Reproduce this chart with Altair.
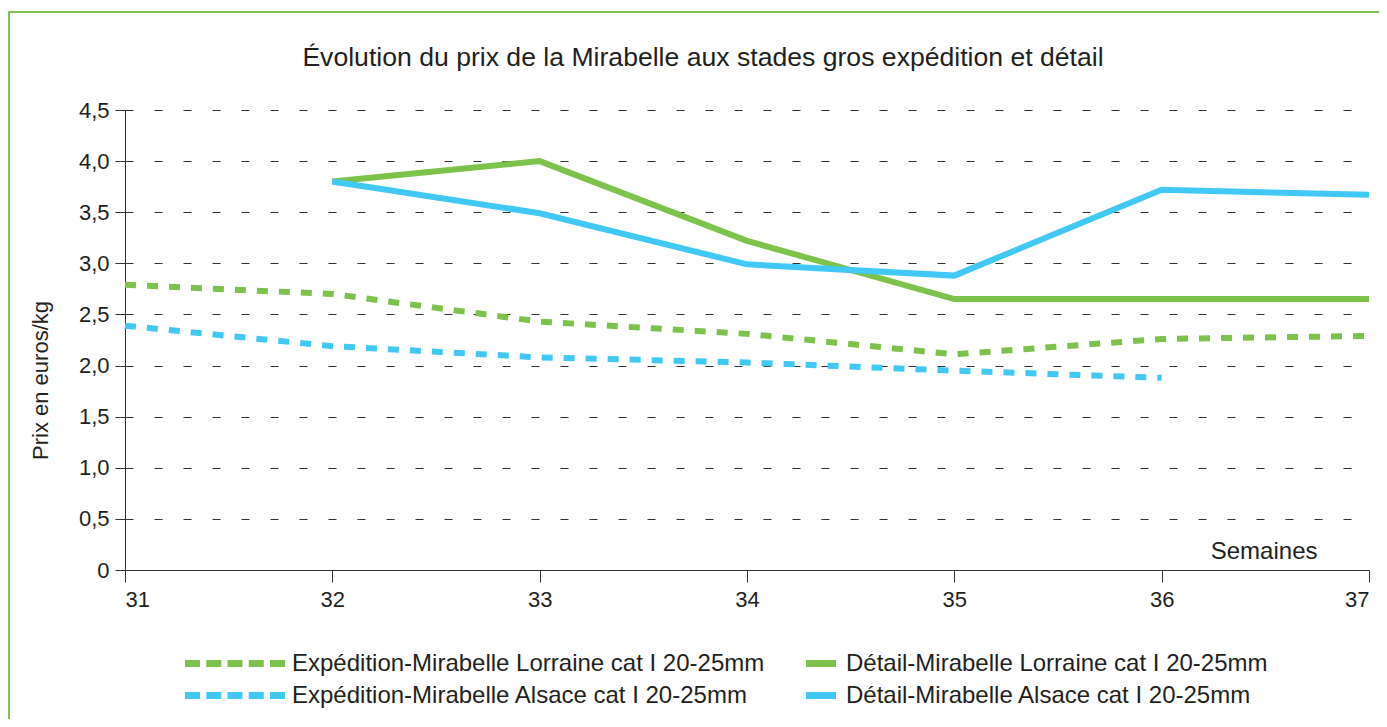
import altair as alt
import pandas as pd

weeks = [31, 32, 33, 34, 35, 36, 37]
name_exp_lor = "Expédition-Mirabelle Lorraine cat I 20-25mm"
name_det_lor = "Détail-Mirabelle Lorraine cat I 20-25mm"
name_exp_als = "Expédition-Mirabelle Alsace cat I 20-25mm"
name_det_als = "Détail-Mirabelle Alsace cat I 20-25mm"

exp_lorraine = [2.79, 2.70, 2.43, 2.31, 2.11, 2.26, 2.29]
exp_alsace = [2.39, 2.19, 2.08, 2.03, 1.95, 1.88, None]
det_lorraine = [None, 3.80, 4.00, 3.22, 2.65, 2.65, 2.65]
det_alsace = [None, 3.80, 3.49, 2.99, 2.88, 3.72, 3.67]

y_ticks = [0, 0.5, 1.0, 1.5, 2.0, 2.5, 3.0, 3.5, 4.0, 4.5]

GREEN = "#7DC24A"
BLUE = "#42C8F4"
FONT = "Liberation Sans"
TEXT = "#231F20"


def long_df(series):
    rows = []
    for name, vals in series:
        for w, v in zip(weeks, vals):
            if v is not None:
                rows.append({"Semaine": w, "Prix": v, "Série": name})
    return pd.DataFrame(rows)


df_exp = long_df([(name_exp_lor, exp_lorraine), (name_exp_als, exp_alsace)])
df_det = long_df([(name_det_lor, det_lorraine), (name_det_als, det_alsace)])

x_enc = alt.X("Semaine:Q",
              scale=alt.Scale(domain=[31, 37], nice=False, zero=False),
              axis=alt.Axis(values=weeks, format="d", title="Semaines",
                            titleX=1192, titleY=-12, titleAlign="right",
                            titleBaseline="alphabetic", titleFontSize=24,
                            titleFontWeight="normal", titleFont=FONT, titleColor=TEXT,
                            grid=False, tickSize=12, labelPadding=7,
                            labelFontSize=22, labelFont=FONT, labelColor=TEXT,
                            domainColor="#333", tickColor="#333"))
y_enc = alt.Y("Prix:Q",
              scale=alt.Scale(domain=[0, 4.5], nice=False),
              axis=alt.Axis(values=y_ticks,
                            labelExpr="datum.value == 0 ? '0' : replace(format(datum.value, '.1f'), '.', ',')",
                            grid=True, gridDash=[8, 21], gridColor="#333", gridWidth=1,
                            tickSize=10, labelPadding=6,
                            labelFontSize=22, labelFont=FONT, labelColor=TEXT,
                            title="Prix en euros/kg", titleX=-85, titleY=270,
                            titleBaseline="middle", titleFontSize=22,
                            titleFontWeight="normal", titleFont=FONT, titleColor=TEXT,
                            domainColor="#333", tickColor="#333"))

legend_common = dict(title=None, orient="none", direction="vertical",
                     rowPadding=3, symbolSize=400, symbolStrokeWidth=7,
                     labelFontSize=24, labelFont=FONT, labelColor=TEXT, labelLimit=0)

exp_lines = alt.Chart(df_exp).mark_line(strokeWidth=6, strokeDash=[11, 11]).encode(
    x=x_enc, y=y_enc,
    color=alt.Color("Série:N",
                    scale=alt.Scale(domain=[name_exp_lor, name_exp_als], range=[GREEN, BLUE]),
                    legend=alt.Legend(legendX=60, legendY=540,
                                      symbolType="M-1.35,0H8.65", symbolDash=[15, 6.25],
                                      labelOffset=80, **legend_common)),
)

det_lines = alt.Chart(df_det).mark_line(strokeWidth=6).encode(
    x=x_enc, y=y_enc,
    color=alt.Color("Série:N",
                    scale=alt.Scale(domain=[name_det_lor, name_det_als], range=[GREEN, BLUE]),
                    legend=alt.Legend(legendX=681, legendY=540,
                                      symbolType="M-1.35,0H1.65",
                                      labelOffset=13, **legend_common)),
)

frame = alt.Chart(pd.DataFrame({"a": [0]})).mark_rect(
    fillOpacity=0, stroke="#7EC353", strokeWidth=2
).encode(x=alt.value(-116), x2=alt.value(1400), y=alt.value(-98), y2=alt.value(900))

chart = alt.layer(exp_lines, det_lines, frame).resolve_scale(
    color="independent"
).resolve_legend(color="independent").properties(
    width=1244, height=460,
    title=alt.TitleParams(
        "Évolution du prix de la Mirabelle aux stades gros expédition et détail",
        fontSize=26.6, font=FONT, fontWeight="normal", color=TEXT,
        anchor="middle", baseline="alphabetic", offset=-82, dx=-44),
    padding={"left": 117, "top": 102, "right": 10, "bottom": 149},
    autosize=alt.AutoSizeParams(type="none"),
).configure_view(stroke=None)

chart.save("out.html", embed_options={"renderer": "svg", "actions": False})
